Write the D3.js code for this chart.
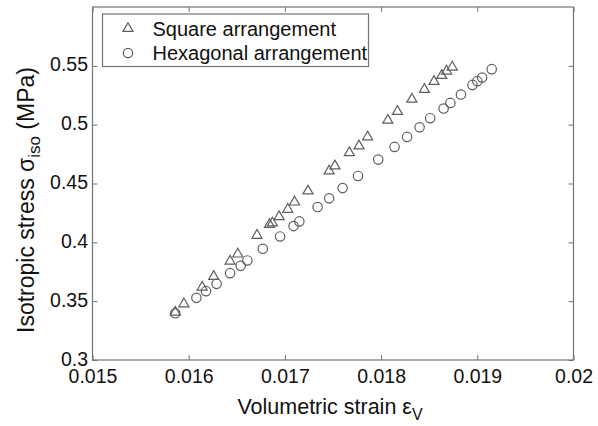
<!DOCTYPE html>
<html>
<head>
<meta charset="utf-8">
<script src="https://cdn.jsdelivr.net/npm/d3@7"></script>
<style>
  html, body { margin: 0; padding: 0; background: #fff; }
  svg { display: block; font-family: "Liberation Sans", Arial, sans-serif; }
</style>
</head>
<body>
<svg id="chart" width="598" height="426"></svg>
<script>
// Volumetric strain vs isotropic stress, two packing arrangements
const squareStrain = [0.01586, 0.01595, 0.01614, 0.01626, 0.01643, 0.01651, 0.01671, 0.01684, 0.01687, 0.01694,
  0.01703, 0.01710, 0.01724, 0.01746, 0.01752, 0.01767, 0.01777, 0.01786, 0.01807, 0.01817,
  0.01832, 0.01845, 0.01855, 0.01863, 0.01868, 0.01874];
const squareStress = [0.3406, 0.3477, 0.3619, 0.3710, 0.3840, 0.3900, 0.4059, 0.4152, 0.4164, 0.4218,
  0.4280, 0.4342, 0.4436, 0.4606, 0.4649, 0.4762, 0.4819, 0.4896, 0.5038, 0.5112,
  0.5216, 0.5299, 0.5367, 0.5418, 0.5455, 0.5489];

const hexStrain = [0.01586, 0.01608, 0.01618, 0.01629, 0.01643, 0.01654, 0.01661, 0.01677, 0.01695, 0.01709,
  0.01715, 0.01734, 0.01746, 0.01760, 0.01776, 0.01797, 0.01814, 0.01827, 0.01840, 0.01851,
  0.01865, 0.01872, 0.01883, 0.01895, 0.01900, 0.01905, 0.01915];
const hexStress = [0.3397, 0.3528, 0.3585, 0.3647, 0.3738, 0.3800, 0.3846, 0.3945, 0.4050, 0.4138,
  0.4178, 0.4300, 0.4374, 0.4461, 0.4564, 0.4703, 0.4811, 0.4896, 0.4978, 0.5055,
  0.5137, 0.5185, 0.5256, 0.5338, 0.5370, 0.5401, 0.5472];

const xTicks = [0.015, 0.016, 0.017, 0.018, 0.019, 0.02];
const xTickLabels = ["0.015", "0.016", "0.017", "0.018", "0.019", "0.02"];
const yTicks = [0.3, 0.35, 0.4, 0.45, 0.5, 0.55];
const yTickLabels = ["0.3", "0.35", "0.4", "0.45", "0.5", "0.55"];
const seriesNames = ["Square arrangement", "Hexagonal arrangement"];

const svg = d3.select("#chart");
const box = { left: 92.5, right: 573.5, top: 7, bottom: 360 };
const frameColor = "#737373";
const markColor = "#5e5e5e";
const textColor = "#111";

const x = d3.scaleLinear().domain([0.015, 0.02]).range([box.left, box.right]);
const y = d3.scaleLinear().domain([0.3, 0.6]).range([box.bottom, box.top]);

// Axes with inward ticks on all four sides
const tickLen = 5;
const bottomAxis = d3.axisBottom(x).tickValues(xTicks).tickSizeInner(-tickLen).tickSizeOuter(0)
  .tickFormat((d, i) => xTickLabels[i]).tickPadding(9);
const topAxis = d3.axisTop(x).tickValues(xTicks).tickSizeInner(-tickLen).tickSizeOuter(0).tickFormat("");
const leftAxis = d3.axisLeft(y).tickValues(yTicks).tickSizeInner(-tickLen).tickSizeOuter(0)
  .tickFormat((d, i) => yTickLabels[i]).tickPadding(4.5);
const rightAxis = d3.axisRight(y).tickValues(yTicks).tickSizeInner(-tickLen).tickSizeOuter(0).tickFormat("");

function styleAxis(g) {
  g.select(".domain").remove();
  g.selectAll(".tick line").attr("stroke", frameColor).attr("stroke-width", 1);
  g.selectAll(".tick text").attr("fill", textColor).attr("font-size", 19.5)
    .attr("font-family", "Liberation Sans, Arial, sans-serif");
}

svg.append("g").attr("transform", `translate(0,${box.bottom})`).call(bottomAxis).call(styleAxis);
svg.append("g").attr("transform", `translate(0,${box.top})`).call(topAxis).call(styleAxis);
svg.append("g").attr("transform", `translate(${box.left},0)`).call(leftAxis).call(styleAxis)
  .selectAll(".tick text").attr("dy", "0.26em");
svg.append("g").attr("transform", `translate(${box.right},0)`).call(rightAxis).call(styleAxis);

// Frame
svg.append("rect")
  .attr("x", box.left).attr("y", box.top)
  .attr("width", box.right - box.left).attr("height", box.bottom - box.top)
  .attr("fill", "none").attr("stroke", frameColor).attr("stroke-width", 1.2);

// Markers
const tri = d3.symbol().type(d3.symbolTriangle).size(44);
const squarePts = squareStrain.map((v, i) => [v, squareStress[i]]);
const hexPts = hexStrain.map((v, i) => [v, hexStress[i]]);

svg.append("g").selectAll("path").data(squarePts).join("path")
  .attr("d", tri)
  .attr("transform", d => `translate(${x(d[0])},${y(d[1])})`)
  .attr("fill", "none").attr("stroke", markColor).attr("stroke-width", 1.2);

svg.append("g").selectAll("circle").data(hexPts).join("circle")
  .attr("cx", d => x(d[0])).attr("cy", d => y(d[1])).attr("r", 4.7)
  .attr("fill", "none").attr("stroke", markColor).attr("stroke-width", 1.2);

// Legend
const leg = svg.append("g");
leg.append("rect").attr("x", 102.5).attr("y", 14).attr("width", 266).attr("height", 52.5)
  .attr("fill", "#fff").attr("stroke", frameColor).attr("stroke-width", 1.2);
leg.append("path").attr("d", tri).attr("transform", "translate(128,28.5)")
  .attr("fill", "none").attr("stroke", markColor).attr("stroke-width", 1.2);
leg.append("circle").attr("cx", 128).attr("cy", 53).attr("r", 4.7)
  .attr("fill", "none").attr("stroke", markColor).attr("stroke-width", 1.2);
leg.selectAll("text").data(seriesNames).join("text")
  .attr("x", 152.5).attr("y", (d, i) => 36 + i * 24)
  .attr("font-size", 20).attr("fill", textColor).text(d => d);

// Axis titles
const xTitle = svg.append("text")
  .attr("x", (box.left + box.right) / 2 - 3).attr("y", 414)
  .attr("text-anchor", "middle").attr("font-size", 21.5).attr("fill", textColor);
xTitle.append("tspan").text("Volumetric strain ε");
xTitle.append("tspan").attr("dy", 6).attr("font-size", 16).text("V");

const yTitle = svg.append("text")
  .attr("transform", "translate(34,200) rotate(-90)")
  .attr("text-anchor", "middle").attr("font-size", 23).attr("fill", textColor);
yTitle.append("tspan").text("Isotropic stress σ");
yTitle.append("tspan").attr("dy", 6).attr("font-size", 17).text("iso");
yTitle.append("tspan").attr("dy", -6).text(" (MPa)");
</script>
</body>
</html>
